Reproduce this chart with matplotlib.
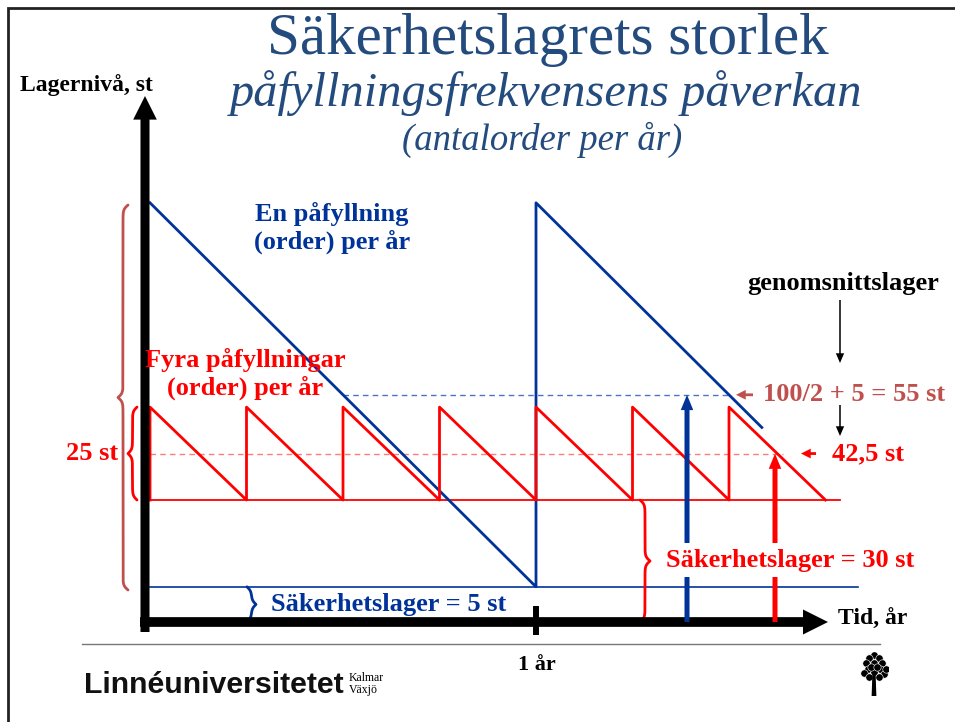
import numpy as np
import matplotlib
matplotlib.use('Agg')
import matplotlib.pyplot as plt
from matplotlib.patches import FancyArrowPatch, Rectangle

# Stock levels (units) over time (years), as drawn on the slide
blue_t = [0, 1, 1, 1.585]
blue_level = [105, 5, 105, 46.5]

red_t = [0, 0, 0.25, 0.25, 0.5, 0.5, 0.75, 0.75, 1, 1, 1.25, 1.25, 1.5, 1.5, 1.75]
red_low = 27.6
red_high = 51.8
red_level = [red_low, red_high, red_low, red_high, red_low, red_high, red_low, red_high,
             red_low, red_high, red_low, red_high, red_low, red_high, red_low]

blue_safety = 5
blue_avg = 55
red_avg = (red_low + red_high) / 2

# colours
BLUE = '#003399'
RED = '#ff0000'
BROWN = '#c0504d'
TITLE = '#244b7e'

# pixel <-> data mapping for a 955x722 slide
W, H = 955, 722
X0, PX_YR = 150, 386.0
Y0, PX_UNIT = 606, 3.84


def px2t(x):
    return (x - X0) / PX_YR


def px2lv(y):
    return (Y0 - y) / PX_UNIT


def fx(x):
    return x / W


def fy(y):
    return 1 - y / H


fig = plt.figure(figsize=(W / 100, H / 100), dpi=100)
ax = fig.add_axes([0, 0, 1, 1])
ax.set_xlim(px2t(0), px2t(W))
ax.set_ylim(px2lv(H), px2lv(0))
ax.axis('off')

# slide frame
fig.patches.append(Rectangle((fx(8), fy(H + 10)), 1.2, fy(8) - fy(H + 10),
                             transform=fig.transFigure, fill=False, ec='#222222', lw=2))


def arrow(p0, p1, color, tail, hw, hl, z=4):
    a = FancyArrowPatch(p0, p1, arrowstyle=f'simple,tail_width={tail},head_width={hw},head_length={hl}',
                        mutation_scale=1, color=color, lw=0, shrinkA=0, shrinkB=0, zorder=z)
    ax.add_patch(a)


def brace(x_end, lv0, lv1, width_px, color, side, lw=2):
    # side=-1 tip to the left ('{'), side=+1 tip to the right ('}')
    half = abs(lv1 - lv0) * PX_UNIT / 2
    u = np.linspace(0, half, 200)
    beta = 0.45
    f = 1 / (1 + np.exp(-beta * u)) + 1 / (1 + np.exp(-beta * (u - half)))
    f = np.concatenate([f, f[::-1][1:]])
    lv = np.linspace(lv0, lv1, len(f))
    xs = x_end + side * (f - 0.5) * width_px / PX_YR
    ax.plot(xs, lv, color=color, lw=lw, solid_capstyle='round', zorder=3)


# sawtooth curves
ax.plot(blue_t, blue_level, color=BLUE, lw=2, zorder=3)
ax.plot(red_t, red_level, color=RED, lw=2, zorder=3)
ax.plot([0, px2t(840)], [red_low, red_low], color=RED, lw=1.3, zorder=2)
ax.plot([0, px2t(858)], [blue_safety, blue_safety], color=BLUE, lw=1.2, zorder=2)
ax.plot([0.5, 1.5], [blue_avg, blue_avg], color='#4f72c4', lw=1, ls=(0, (4, 3)), zorder=2)
ax.plot([0, px2t(783)], [red_avg, red_avg], color='#ff7b7b', lw=1, ls=(0, (4, 3)), zorder=2)

# axes arrows
axis_lv = px2lv(622)
arrow((px2t(145), px2lv(632)), (px2t(145), px2lv(96)), 'black', 6.5, 17, 17)
arrow((px2t(140), axis_lv), (px2t(828), axis_lv), 'black', 7, 18, 18)
ax.plot([1, 1], [px2lv(606), px2lv(635)], color='black', lw=4.3, solid_capstyle='butt', zorder=4)

# average level arrows
arrow((px2t(687), axis_lv), (px2t(687), blue_avg), BLUE, 3.6, 9, 11)
arrow((px2t(775), axis_lv), (px2t(775), red_avg), RED, 3.6, 9, 11)

# braces
brace(px2t(128), px2lv(205), px2lv(590), 10, BROWN, -1)
brace(px2t(137), red_low, red_high, 9, RED, -1)
brace(px2t(247), blue_safety, axis_lv, 9, BLUE, 1)
brace(px2t(640), red_low, axis_lv, 10, RED, 1)

# titles
fig.text(fx(548), fy(54), 'Säkerhetslagrets storlek', ha='center', va='baseline',
         family='Liberation Serif', fontsize=42.5, color=TITLE)
fig.text(fx(546), fy(106), 'påfyllningsfrekvensens påverkan', ha='center', va='baseline',
         family='Liberation Serif', style='italic', fontsize=34.8, color=TITLE)
fig.text(fx(542), fy(150), '(antalorder per år)', ha='center', va='baseline',
         family='Liberation Serif', style='italic', fontsize=26.5, color=TITLE)

bold = dict(family='Liberation Serif', weight='bold')
fig.text(fx(20), fy(91), 'Lagernivå, st', ha='left', va='baseline', fontsize=17, **bold)
fig.text(fx(838), fy(625), 'Tid, år', ha='left', va='baseline', fontsize=17, **bold)
fig.text(fx(537), fy(670), '1 år', ha='center', va='baseline', fontsize=16, **bold)

ax.text(px2t(332), px2lv(228), 'En påfyllning\n(order) per år', ha='center', va='center',
        color=BLUE, fontsize=19, linespacing=1.2, zorder=5, **bold)
ax.text(px2t(245), px2lv(374), 'Fyra påfyllningar\n(order) per år', ha='center', va='center',
        color=RED, fontsize=19, linespacing=1.2, zorder=5, **bold)
fig.text(fx(843), fy(290), 'genomsnittslager', ha='center', va='baseline', fontsize=19, **bold)
arrow((px2t(840), px2lv(300)), (px2t(840), px2lv(363)), 'black', 1.1, 6, 7)
arrow((px2t(840), px2lv(405)), (px2t(840), px2lv(436)), 'black', 1.1, 6, 7)

arrow((px2t(753), blue_avg), (px2t(736), blue_avg), BROWN, 2, 7, 7)
ax.text(px2t(763), blue_avg, '100/2 + 5 = 55 st', ha='left', va='center', color=BROWN,
        fontsize=19, zorder=5, **bold)
arrow((px2t(816), red_avg), (px2t(801), red_avg), RED, 2, 7, 7)
ax.text(px2t(832), red_avg, '42,5 st', ha='left', va='center', color=RED, fontsize=19, zorder=5, **bold)
ax.text(px2t(118), red_avg, '25 st', ha='right', va='center', color=RED, fontsize=19, zorder=5, **bold)

ax.text(px2t(666), px2lv(560), 'Säkerhetslager = 30 st', ha='left', va='center', color=RED,
        fontsize=19, zorder=6, bbox=dict(fc='white', ec='none', pad=4), **bold)
ax.text(px2t(271), px2lv(604), 'Säkerhetslager = 5 st', ha='left', va='center', color=BLUE,
        fontsize=19, zorder=5, **bold)

# footer
fig.add_artist(plt.Line2D([fx(82), fx(880)], [fy(644), fy(644)], color='#777777', lw=1))
fig.text(fx(84), fy(693), 'Linnéuniversitetet', ha='left', va='baseline', family='Liberation Sans',
         weight='bold', fontsize=21.8, color='#111111')
fig.text(fx(349), fy(681), 'Kalmar', ha='left', va='baseline', family='Liberation Serif', fontsize=8.5)
fig.text(fx(349), fy(693), 'Växjö', ha='left', va='baseline', family='Liberation Serif', fontsize=8.5)

# tree logo
tx = fig.add_axes([fx(860), fy(696), 28 / W, 44 / H])
tx.set_xlim(-1, 1)
tx.set_ylim(0, 2)
tx.axis('off')
leaf_x = [0, -0.35, 0.35, -0.6, 0, 0.6, -0.45, 0.45, -0.7, 0, 0.7, -0.35, 0.35, 0.85, -0.2, 0.2]
leaf_y = [1.85, 1.75, 1.75, 1.5, 1.5, 1.5, 1.25, 1.25, 1.05, 1.1, 1.0, 0.85, 0.85, 1.25, 1.3, 1.3]
tx.scatter(leaf_x, leaf_y, s=28, color='black', edgecolors='white', linewidths=0.4)
tx.fill([-0.12, 0.12, 0.06, -0.06], [0.0, 0.0, 1.1, 1.1], color='black')

fig.savefig('out.png', dpi=100)
